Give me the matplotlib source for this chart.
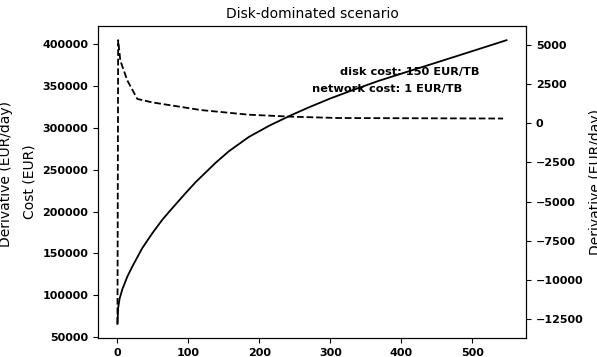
import matplotlib
matplotlib.use("Agg")
import matplotlib.pyplot as plt

days_cost = [0, 1, 3, 7, 14, 21, 35, 49, 63, 72, 96, 110, 138, 157, 185, 215, 246,
             270, 300, 330, 368, 410, 450, 500, 548]
cost = [66000, 85000, 96000, 107500, 122500, 134500, 156400, 174000, 190000, 199000,
        222000, 235000, 258000, 272000, 289000, 303000, 315500, 324500, 335000,
        344500, 356000, 367300, 378000, 391500, 404500]

days_deriv = [0, 1, 4, 14, 28, 49, 70, 117, 185, 246, 312, 400, 543]
deriv = [-12800, 5300, 4000, 2720, 1550, 1330, 1180, 844, 544, 416, 333, 320, 300]

title = "Disk-dominated scenario"
note_disk = "disk cost: 150 EUR/TB"
note_net = "network cost: 1 EUR/TB"

fig = plt.figure(figsize=(5.97, 3.57), dpi=100)
ax = fig.add_axes([98/597, 19/357, 428/597, 312/357])
ax.plot(days_cost, cost, color="black", lw=1.3)
ax.set_ylabel("Cost (EUR)", fontsize=10)
ax.set_title(title, fontsize=10)
ax2 = ax.twinx()
ax2.plot(days_deriv, deriv, color="black", lw=1.3, ls="--")
ax2.set_ylabel("Derivative (EUR/day)", fontsize=10)

for a in (ax, ax2):
    a.tick_params(labelsize=8)
for lab in ax.get_xticklabels() + ax.get_yticklabels() + ax2.get_yticklabels():
    lab.set_fontweight("bold")

ax2.text(340/597, (357-72)/357, note_disk, transform=fig.transFigure, fontsize=8.2,
         fontweight="bold", ha="left", va="center")
ax2.text(312/597, (357-89)/357, note_net, transform=fig.transFigure, fontsize=8.2,
         fontweight="bold", ha="left", va="center")
fig.text(6/597, 183/357, "Derivative (EUR/day)", rotation=90, fontsize=10,
         ha="center", va="center")

fig.savefig("out.png", dpi=100)
